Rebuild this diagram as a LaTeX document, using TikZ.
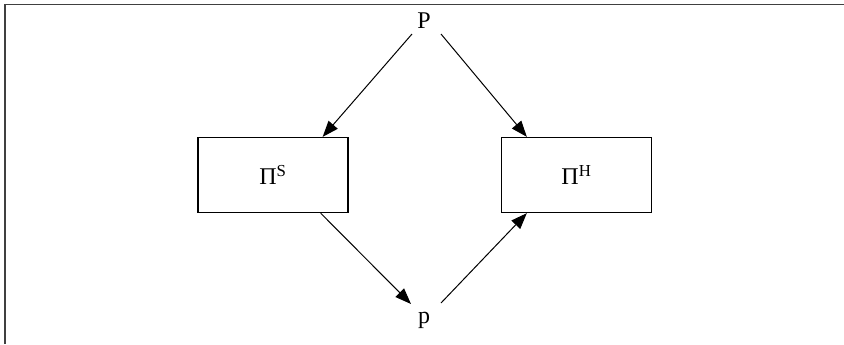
\documentclass[tikz,border=0pt]{standalone}
\usepackage{fontspec}
\setmainfont{Liberation Serif}
\usetikzlibrary{arrows.meta,calc}
\begin{document}
\begin{tikzpicture}[x=0.75pt,y=-0.75pt,
  frame/.style={line width=1.3pt,draw=black!75},
  procbox/.style={draw,line width=1pt,minimum width=150*0.75pt,minimum height=75*0.75pt,inner sep=0pt,font=\fontsize{18}{20}\selectfont},
  lbl/.style={inner sep=0pt,font=\fontsize{18}{20}\selectfont},
  arr/.style={line width=0.75pt,-{Triangle[length=12pt,width=9pt]}}]
\useasboundingbox (0,0) rectangle (844,344);
\draw[frame] (5,344) -- (5,4.5) -- (844,4.5);
\node[lbl] (P) at (424,21) {P};
\node[lbl] (p) at (424,320) {p};
\node[procbox] (S) at (273,175) {Π\textsuperscript{S}};
\node[procbox] (H) at (576.5,175) {Π\textsuperscript{H}};
\draw[arr] ($(P)+(-12,13)$) -- ($(S.north east)+(-26,0)$);
\draw[arr] ($(P)+(17,13)$) -- ($(H.north west)+(26,0)$);
\draw[arr] ($(S.south east)+(-28,0)$) -- ($(p)+(-13,-16)$);
\draw[arr] ($(p)+(17,-17)$) -- ($(H.south west)+(26,0)$);
\end{tikzpicture}
\end{document}
